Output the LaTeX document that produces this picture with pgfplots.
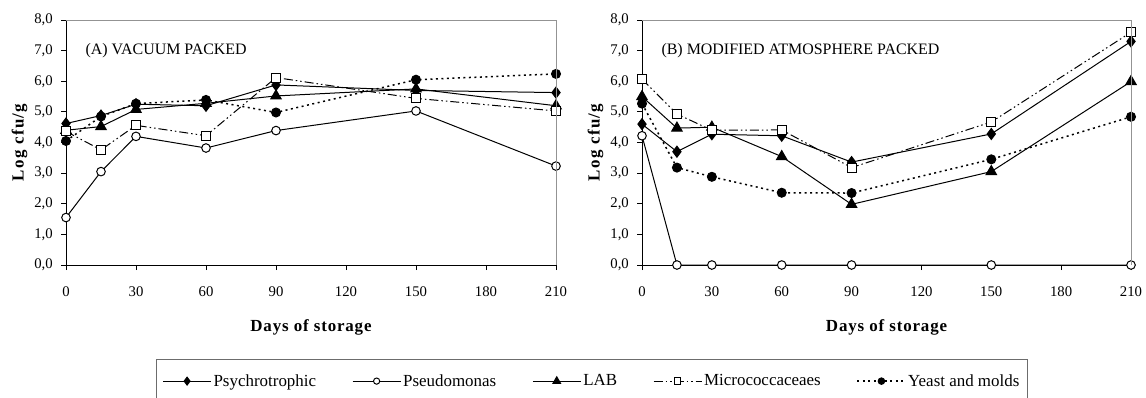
\documentclass[border=0pt]{standalone}
\usepackage{fontspec}
\setmainfont{Liberation Serif}
\usepackage{pgfplots}
\pgfplotsset{compat=1.18}
\begin{document}
\begin{tikzpicture}[x=1bp,y=1bp]
\useasboundingbox (0,0) rectangle (1146,397);
\pgfplotsset{
 common/.style={
  scale only axis, width=490bp, height=245bp,
  xmin=0,xmax=210,ymin=0,ymax=8,
  xtick={0,30,...,210}, ytick={0,1,...,8},
  axis lines*=left, axis line style={black, line width=1bp},
  tick align=outside, major tick length=5bp, tick style={black, line width=0.8bp},
  clip=false,
  yticklabel style={/pgf/number format/fixed, /pgf/number format/fixed zerofill, /pgf/number format/precision=1, /pgf/number format/use comma, /pgf/number format/assume math mode=true},
  xticklabel style={/pgf/number format/assume math mode=true},
  ticklabel style={font=\fontsize{14.8}{16}\selectfont},
  xticklabel style={anchor=north, inner sep=0pt, yshift=-16bp},
  yticklabel style={anchor=east, inner sep=0pt, xshift=-8bp},
  xlabel style={at={(axis description cs:0.5,-0.253)}, anchor=center, font=\fontsize{17}{20}\selectfont\bfseries\addfontfeatures{LetterSpace=5}},
  ylabel style={at={(axis description cs:-0.095,0.5)}, anchor=center, font=\fontsize{17}{20}\selectfont\bfseries\addfontfeatures{LetterSpace=8}},
  xlabel={Days of storage}, ylabel={Log cfu/g},
  every axis plot/.append style={line width=1bp, black},
  after end axis/.code={\draw[gray!85, line width=1bp] (rel axis cs:0,1) -- (rel axis cs:1,1) -- (rel axis cs:1,0);},
 },
 psy/.style={solid, mark=diamond*, mark size=5.5bp, mark options={solid, fill=black}},
 pse/.style={solid, mark=*, mark size=4.3bp, mark options={solid, fill=white}},
 lab/.style={solid, mark=triangle*, mark size=6bp, mark options={solid, fill=black}},
 mic/.style={dash pattern=on 9bp off 3bp on 1.5bp off 3bp on 1.5bp off 3bp, mark=square*, mark size=4.5bp, mark options={solid, fill=white}},
 yea/.style={line width=1.5bp, dash pattern=on 2bp off 3.5bp, mark=*, mark size=4.5bp, mark options={solid, fill=black, line width=1bp}},
}
\begin{axis}[common, at={(66bp,132bp)}, anchor=south west,
  legend columns=5,
  legend style={at={(axis description cs:1.963,-0.3837)}, anchor=north east, draw=gray!85!black, line width=1bp,
    font=\fontsize{17}{20}\selectfont, inner xsep=6bp, inner ysep=13bp,
    /tikz/every even column/.append style={column sep=34bp}},
  legend image code/.code={\draw[mark repeat=2,mark phase=2,#1, /tikz/every mark/.append style={scale=0.72}] plot coordinates {(0bp,0bp)(24bp,0bp)(48bp,0bp)};},
]
\addplot[psy] coordinates {(0,4.62)(15,4.88)(30,5.25)(60,5.2)(90,5.88)(150,5.7)(210,5.63)};
\addlegendentry{Psychrotrophic}
\addplot[pse] coordinates {(0,1.55)(15,3.05)(30,4.2)(60,3.82)(90,4.39)(150,5.03)(210,3.23)};
\addlegendentry{Pseudomonas}
\addplot[lab] coordinates {(0,4.4)(15,4.52)(30,5.08)(60,5.28)(90,5.52)(150,5.75)(210,5.2)};
\addlegendentry{LAB}
\addplot[mic] coordinates {(0,4.36)(15,3.76)(30,4.56)(60,4.22)(90,6.12)(150,5.44)(210,5.03)};
\addlegendentry{Micrococcaceaes}
\addplot[yea] coordinates {(0,4.05)(15,4.85)(30,5.27)(60,5.39)(90,4.98)(150,6.05)(210,6.24)};
\addlegendentry{Yeast and molds}
\node[anchor=west, font=\fontsize{16}{18}\selectfont] at (rel axis cs:0.0327,0.873) {(A) VACUUM PACKED};
\end{axis}
\begin{axis}[common, at={(642bp,132bp)}, anchor=south west, width=489bp]
\addplot[psy] coordinates {(0,4.6)(15,3.7)(30,4.27)(60,4.22)(90,3.36)(150,4.28)(210,7.3)};
\addplot[pse] coordinates {(0,4.22)(15,0)(30,0)(60,0)(90,0)(150,0)(210,0)};
\addplot[lab] coordinates {(0,5.5)(15,4.47)(30,4.5)(60,3.54)(90,1.98)(150,3.05)(210,5.99)};
\addplot[mic] coordinates {(0,6.07)(15,4.93)(30,4.4)(60,4.41)(90,3.18)(150,4.67)(210,7.6)};
\addplot[yea] coordinates {(0,5.27)(15,3.18)(30,2.88)(60,2.36)(90,2.35)(150,3.45)(210,4.84)};
\node[anchor=west, font=\fontsize{16}{18}\selectfont] at (rel axis cs:0.0327,0.873) {(B) MODIFIED ATMOSPHERE PACKED};
\end{axis}
\end{tikzpicture}
\end{document}
